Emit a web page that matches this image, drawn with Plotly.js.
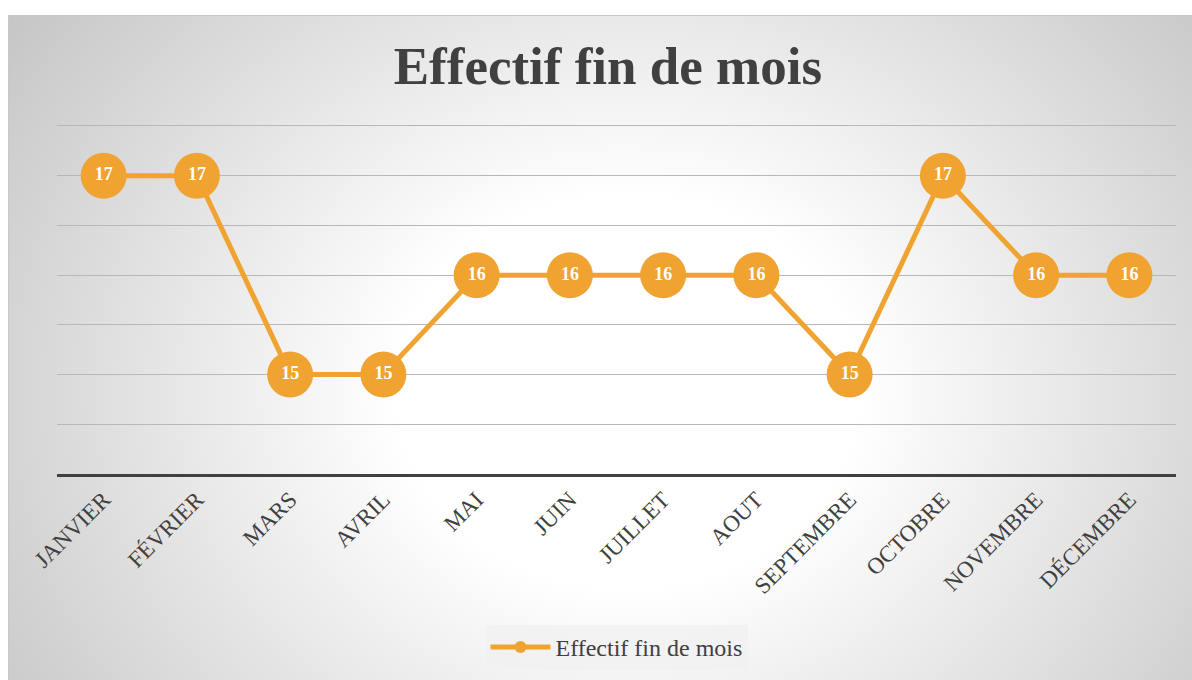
<!DOCTYPE html>
<html>
<head>
<meta charset="utf-8">
<script src="https://cdn.plot.ly/plotly-3.0.1.min.js"></script>
<style>
  html, body { margin: 0; padding: 0; background: #ffffff; }
  #wrap { position: relative; width: 1192px; height: 680px; overflow: hidden; }
  #bg {
    position: absolute; left: 8px; top: 15px; width: 1190px; height: 670px;
    border-left: 1px solid #c8c8c8; border-top: 1px solid #c8c8c8;
    background: radial-gradient(ellipse 820px 700px at 52% 56%, #ffffff 0%, #ffffff 28%, #c6c6c6 92%, #c0c0c0 100%);
  }
  #chart { position: absolute; left: 0; top: 0; width: 1192px; height: 680px; }
</style>
</head>
<body>
<div id="wrap">
  <div id="bg"></div>
  <div id="chart"></div>
</div>
<script>
const months = ["JANVIER", "FÉVRIER", "MARS", "AVRIL", "MAI", "JUIN", "JUILLET", "AOUT", "SEPTEMBRE", "OCTOBRE", "NOVEMBRE", "DÉCEMBRE"];
const effectif = [17, 17, 15, 15, 16, 16, 16, 16, 15, 17, 16, 16];
const seriesName = "Effectif fin de mois";
const chartTitle = "Effectif fin de mois";

const orange = "#F0A330";
const serif = "'Liberation Serif', 'DejaVu Serif', serif";

const traces = [
  {
    x: months, y: effectif, name: seriesName, type: "scatter", mode: "lines+markers",
    line: { color: orange, width: 5 },
    marker: { color: orange, size: 46 },
    hoverinfo: "skip", showlegend: true, cliponaxis: false
  },
  {
    x: months, y: effectif, type: "scatter", mode: "text",
    text: effectif.map(String), textposition: "middle center",
    textfont: { family: serif, size: 18, color: "#ffffff", weight: "bold" },
    hoverinfo: "skip", showlegend: false, cliponaxis: false
  }
];

const layout = {
  width: 1192, height: 680,
  paper_bgcolor: "rgba(0,0,0,0)", plot_bgcolor: "rgba(0,0,0,0)",
  margin: { l: 57, r: 16, t: 121, b: 205 },
  title: {
    text: "<b>" + chartTitle + "</b>",
    font: { family: serif, size: 53, color: "#404040" },
    x: 0.51, xanchor: "center", y: 1 - 65 / 680, yanchor: "middle"
  },
  xaxis: {
    type: "category", tickangle: -45,
    tickfont: { family: serif, size: 23, color: "#404040" },
    showline: true, linecolor: "#404040", linewidth: 3,
    showgrid: false, ticks: "", ticklen: 0, automargin: false,
    range: [-0.5, 11.5]
  },
  yaxis: {
    range: [14, 17.55], dtick: 0.5, tick0: 14,
    showticklabels: false, showline: false, zeroline: false,
    showgrid: true, gridcolor: "#b8b8b8", gridwidth: 1, ticks: ""
  },
  showlegend: true,
  legend: {
    orientation: "h", x: 0.5, xanchor: "center", y: -0.487, yanchor: "middle",
    bgcolor: "rgba(240,240,240,0.75)", borderwidth: 0,
    font: { family: serif, size: 24, color: "#404040" },
    itemsizing: "constant", itemwidth: 60
  }
};

Plotly.newPlot("chart", traces, layout, { displayModeBar: false, staticPlot: true });
</script>
</body>
</html>
